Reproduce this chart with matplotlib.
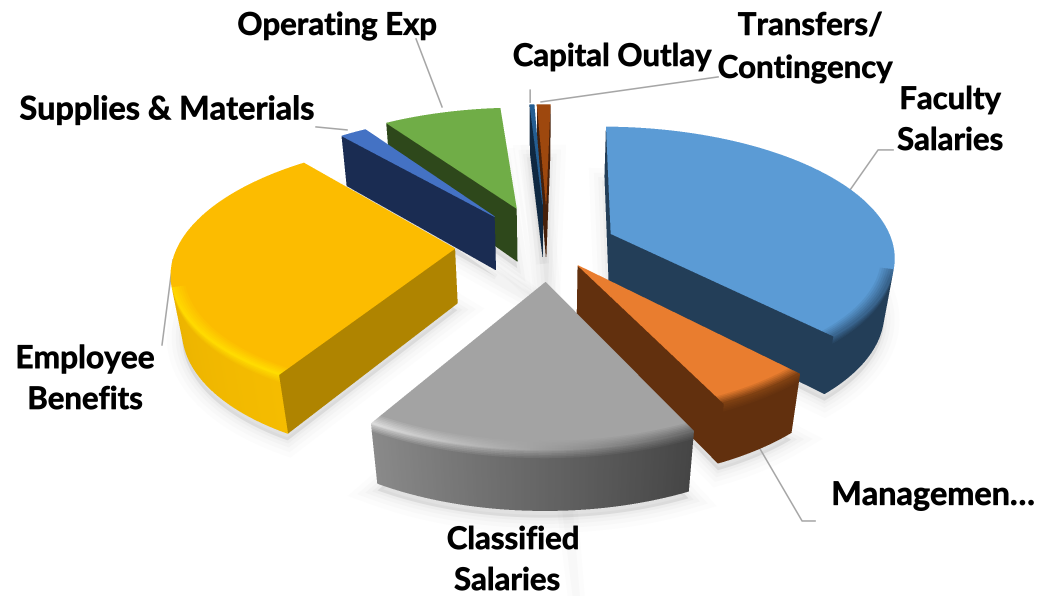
"""
Budget breakdown drawn as an exploded 3D pie with a perspective projection.
"""

import numpy as np
import matplotlib
matplotlib.use('Agg')
import matplotlib.pyplot as plt
import matplotlib.patheffects as pe
from matplotlib.collections import PolyCollection

# Share of the budget per category, percent
categories = ['Faculty Salaries', 'Management', 'Classified Salaries', 'Employee Benefits',
              'Supplies & Materials', 'Operating Exp', 'Capital Outlay', 'Transfers/Contingency']
shares = [37.8, 4.9, 15.4, 30.4, 1.8, 8.05, 0.3, 0.9]

# Slice styling
explode = [0.25, 0.19, 0.28, 0.32, 0.29, 0.32, 0.34, 0.34]
radius = [1.0, 0.975, 1.0, 0.98, 1.0, 1.0, 1.0, 1.0]
shift_x = [1, 2, 4, 0, -3, 0, 2, 2]
top_colors = ['#5B9BD5', '#E97D2F', '#A3A3A3', '#FCBC00', '#4472C4', '#70AD47', '#255E91', '#9E480E']
side_colors = ['#233E58', '#62300E', '#555555', '#AF8400', '#1A2C52', '#2E481B', '#0F2841', '#46200A']
# outer wall colour at the start and the end of each arc
wall_start = ['#233E58', '#62300E', '#454545', '#F5BC00', '#1A2C52', '#2E481B', '#0F2841', '#46200A']
wall_end = ['#233E58', '#62300E', '#8A8A8A', '#DCA500', '#1A2C52', '#2E481B', '#0F2841', '#46200A']
# rim colour where the top meets the outer wall
rim_start = ['#2F5478', '#7E4012', '#6A6A6A', '#FFDC00', '#1A2C52', '#2E481B', '#0F2841', '#46200A']
rim_end = ['#3A6690', '#7E4012', '#DCDCDC', '#FFD000', '#1A2C52', '#2E481B', '#0F2841', '#46200A']

FIRST_ANGLE = 1.0

# Projection constants, in pixels of the final image
OX, OY = 545.0, 245.0
SCALE_X, SCALE_Y = 282.0, 127.3
PERSP = 0.161
DEPTH_PERSP = 0.03
THICK = 56.0
SUPERSAMPLE = 3


def project(x, y, z=0.0):
    d = 1 + PERSP * y - DEPTH_PERSP * z
    return OX + SCALE_X * x / d, OY - (SCALE_Y * y + THICK * z) / d


def signed_area(pts):
    xs, ys = np.array(pts).T
    return 0.5 * np.sum(xs * np.roll(ys, -1) - np.roll(xs, -1) * ys)


def hex_rgb(c):
    return np.array(matplotlib.colors.to_rgb(c))


def draw_slice(ax, i, start, end, zorder):
    span = end - start
    mid = np.radians((start + end) / 2)
    ox, oy = explode[i] * np.sin(mid), explode[i] * np.cos(mid)
    big_r = radius[i]

    n = max(3, int(span / 0.5))
    th = np.radians(np.linspace(start, end, n + 1))

    def pt(r, a, z=0.0):
        x, y = project(ox + big_r * r * np.sin(a), oy + big_r * r * np.cos(a), z)
        return x + shift_x[i], y

    def centre(z=0.0):
        x, y = project(ox, oy, z)
        return x + shift_x[i], y

    # soft shadow under the slice
    foot = [centre(-1)] + [pt(1, a, -1) for a in th]
    foot = [(x, y + 7) for x, y in foot]
    for lw, alpha in [(22, 0.012), (15, 0.016), (9, 0.02), (4, 0.025)]:
        ax.add_patch(plt.Polygon(foot, closed=True, facecolor=(0, 0, 0, alpha),
                                 edgecolor=(0, 0, 0, alpha), linewidth=lw, zorder=1))

    polys, colors = [], []

    # radial side walls, only the ones that face the viewer
    for a in (th[0], th[-1]):
        quad = [centre(0), pt(1, a, 0), pt(1, a, -1), centre(-1)]
        facing = signed_area(quad) < 0 if a == th[0] else signed_area(quad) > 0
        if facing:
            polys.append(quad)
            colors.append(matplotlib.colors.to_rgb(side_colors[i]))

    top = hex_rgb(top_colors[i])
    bands = np.linspace(0, 1, 7)
    polys.append([centre(0)] + [pt(1, a) for a in th])
    colors.append(tuple(top))

    # outer wall and rim, shaded along the arc
    walls, rims = [], []
    for k in range(n):
        a0, a1 = th[k], th[k + 1]
        quad = [pt(1, a0, 0), pt(1, a1, 0), pt(1, a1, -1), pt(1, a0, -1)]
        if signed_area(quad) > 0:
            continue
        f = (k + 0.5) / n
        wall = (1 - f) * hex_rgb(wall_start[i]) + f * hex_rgb(wall_end[i])
        rim = (1 - f) * hex_rgb(rim_start[i]) + f * hex_rgb(rim_end[i])
        # the rim fades out where the wall turns away from the viewer
        strength = np.clip(-np.cos((a0 + a1) / 2) / 0.35, 0, 1)
        rim_top = (1 - strength) * top + strength * rim
        walls.append((quad, tuple(wall)))
        for b0, b1 in zip(bands[:-1], bands[1:]):
            r0, r1 = 0.955 + 0.045 * b0, 0.955 + 0.045 * b1
            rims.append(([pt(r0, a0), pt(r0, a1), pt(r1, a1), pt(r1, a0)], tuple((1 - b1) * top + b1 * rim_top)))
            z0, z1 = -0.16 * b0, -0.16 * b1
            rims.append(([pt(1, a0, z0), pt(1, a1, z0), pt(1, a1, z1), pt(1, a0, z1)], tuple((1 - b1) * rim + b1 * wall)))
    for quad, c in walls + rims:
        polys.append(quad)
        colors.append(c)

    # no antialiasing here, the whole figure gets box-filtered down at the end
    ax.add_collection(PolyCollection(polys, facecolors=colors, edgecolors=colors,
                                     linewidths=0.2, antialiaseds=False, zorder=zorder))


# a hair over the nominal size so the canvas does not round down a pixel
fig = plt.figure(figsize=(10.371, 5.961), dpi=100 * SUPERSAMPLE)
ax = fig.add_axes([0, 0, 1, 1])
ax.set_xlim(0, 1037)
ax.set_ylim(596, 0)
ax.axis('off')

# Slice angles, clockwise from 12 o'clock. What the shares leave over sits before Capital Outlay.
spans = np.array(shares) * 3.6
leftover = 360 - spans.sum()
starts = []
angle = FIRST_ANGLE
for i, span in enumerate(spans):
    if categories[i] == 'Capital Outlay':
        angle += leftover
    starts.append(angle)
    angle += span
ends = [s + d for s, d in zip(starts, spans)]

# Paint the slices from back to front
mids = np.radians((np.array(starts) + np.array(ends)) / 2)
for z, i in enumerate(np.argsort(np.cos(mids))[::-1]):
    draw_slice(ax, i, starts[i], ends[i], 5 + z)

# Leader lines
leaders = [
    [(416, 39), (442, 107)],
    [(530, 90), (530, 102)],
    [(541, 102), (718, 77)],
    [(316, 127), (347, 130)],
    [(850, 190), (878, 150), (893, 150)],
    [(173, 260), (162, 345)],
    [(760, 449), (802, 521), (815, 521)],
]
for line in leaders:
    xs, ys = zip(*line)
    ax.plot(xs, ys, color='#A6A6A6', linewidth=1.1, zorder=3)

# Labels
labels = [
    ('Operating Exp', 337, 26, 22.4),
    ('Transfers/', 810, 26, 22.4),
    ('Contingency', 805, 69, 22.4),
    ('Capital Outlay', 612, 57, 22.4),
    ('Faculty', 950, 100, 22.4),
    ('Salaries', 950, 141, 22.4),
    ('Supplies & Materials', 167, 110, 23.3),
    ('Employee', 85, 359, 22.8),
    ('Benefits', 85, 400, 22.4),
    ('Managemen…', 933, 496, 23.3),
    ('Classified', 513, 540, 22.4),
    ('Salaries', 507, 581, 22.4),
]
for text, x, y, size in labels:
    ax.text(x, y, text, ha='center', va='center', fontsize=size, fontweight='bold',
            family='Lato', color='black', zorder=30,
            path_effects=[pe.withStroke(linewidth=0.5, foreground='black')])

# Render large and average down so the shaded walls come out without seams
fig.canvas.draw()
rgba = np.asarray(fig.canvas.buffer_rgba())[:, :, :3].astype(float)
h, w = rgba.shape[0] // SUPERSAMPLE, rgba.shape[1] // SUPERSAMPLE
small = rgba[:h * SUPERSAMPLE, :w * SUPERSAMPLE].reshape(h, SUPERSAMPLE, w, SUPERSAMPLE, 3).mean(axis=(1, 3))
plt.imsave('out.png', small.astype(np.uint8))
plt.close()
